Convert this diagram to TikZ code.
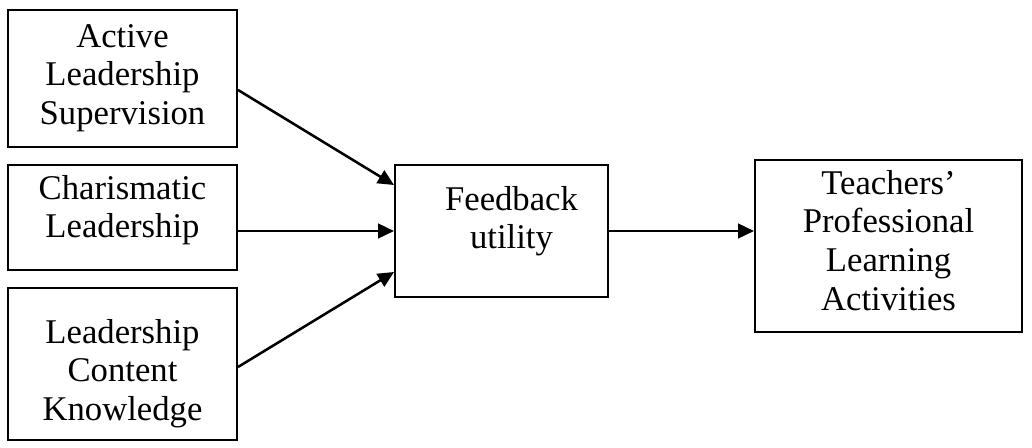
\documentclass[tikz,border=0pt]{standalone}
\usepackage{fontspec}
\setmainfont{Liberation Serif}
\usetikzlibrary{arrows.meta,calc}
\begin{document}
\begin{tikzpicture}[x=0.75pt,y=-0.75pt,
  box/.style={draw,line width=1.5pt,inner sep=0pt,rectangle},
  lbl/.style={font=\fontsize{26}{29}\selectfont,align=center,inner sep=0pt},
  conn/.style={line width=1.9pt,-{Triangle[length=12pt,width=11pt]}}]
\useasboundingbox (0,0) rectangle (1032,447);
% boxes
\node[box,minimum width=171.75pt,minimum height=102.75pt] (b1) at (122.5,78.5) {};
\node[box,minimum width=171.75pt,minimum height=78.75pt] (b2) at (122.5,217.5) {};
\node[box,minimum width=171.75pt,minimum height=114pt] (b3) at (122.5,364) {};
\node[box,minimum width=159.75pt,minimum height=99pt] (fb) at (501.5,231) {};
\node[box,minimum width=200.25pt,minimum height=129pt] (tp) at (888.5,246) {};
% texts
\node[lbl,anchor=north] (t1) at ($(b1.north)+(0,15)$) {Active\\Leadership\\Supervision};
\node[lbl,anchor=north] (t2) at ($(b2.north)+(0,11)$) {Charismatic\\Leadership};
\node[lbl,anchor=north] (t3) at ($(b3.north)+(0,32)$) {Leadership\\Content\\Knowledge};
\node[lbl,anchor=north] (t4) at ($(fb.north)+(10,22)$) {Feedback\\utility};
\node[lbl,anchor=north] (t5) at ($(tp.north)+(0,11)$) {Teachers’\\Professional\\Learning\\Activities};
% connectors
\draw[conn] ([yshift=-8.6pt]b1.east) -- ([yshift=34.5pt]fb.west);
\draw[conn] (b2.east |- fb.west) -- (fb.west);
\draw[conn] ([yshift=-2.25pt]b3.east) -- ([yshift=-30.75pt]fb.west);
\draw[conn] (fb.east) -- (fb.east -| tp.west);
\end{tikzpicture}
\end{document}
